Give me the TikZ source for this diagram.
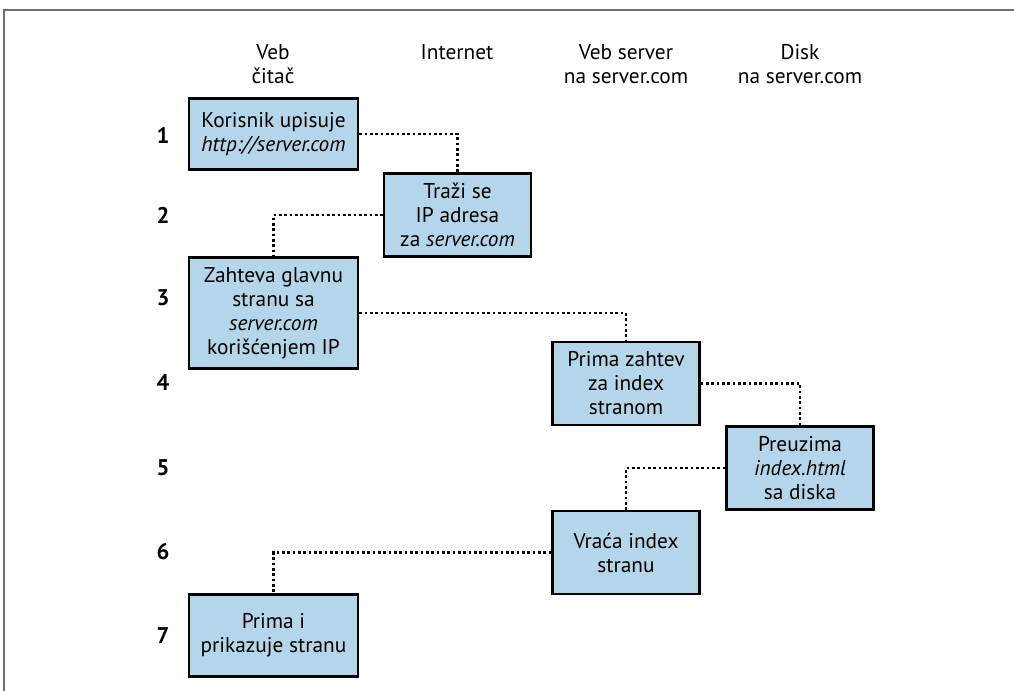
\documentclass[tikz,border=0pt]{standalone}
\usepackage{fontspec}
\setmainfont{PT Sans}
\usetikzlibrary{positioning}
\definecolor{boxblue}{HTML}{B4D5EA}
\definecolor{framegray}{HTML}{6E6E6E}

\begin{document}
\begin{tikzpicture}[x=0.75pt,y=-0.75pt,thick]
        %
        % `stage' is used for the blue step boxes.
        % `link' is used for the dotted connectors.
        % `rownum' is used for the step numbers on the left.
        \tikzstyle{stage} = [draw,fill=boxblue,line width=1.8pt,align=center,inner sep=0pt,font=\fontsize{16}{18}\selectfont]
        \tikzstyle{wide} = [minimum width=127pt]
        \tikzstyle{narrow} = [minimum width=110pt]
        \tikzstyle{link} = [line width=2.1pt,dash pattern=on 2pt off 2pt]
        \tikzstyle{rownum} = [font=\fontsize{17}{18}\selectfont\bfseries]
        \tikzstyle{head} = [align=center,font=\fontsize{16}{18}\selectfont]
        %
        \useasboundingbox (0,0) rectangle (1014,691);
        % Frame
        \draw[framegray,line width=1.4pt] (4,691) -- (4,10) -- (1014,10);
        %
        % Column heads
        \node[head] (head1) at (273,64) {Veb\\čitač};
        \node[head] (head2) at (457,52) {Internet};
        \node[head] (head3) at (626,64) {Veb server\\na server.com};
        \node[head] (head4) at (800,64) {Disk\\na server.com};
        %
        % Step numbers
        \node[rownum] (n1) at (163,135) {1};
        \node[rownum] (n2) at (163,215) {2};
        \node[rownum] (n3) at (163,298) {3};
        \node[rownum] (n4) at (163,383) {4};
        \node[rownum] (n5) at (163,468) {5};
        \node[rownum] (n6) at (163,552) {6};
        \node[rownum] (n7) at (163,636) {7};
        %
        % Column 1
        \node[stage,wide,minimum height=53.5pt] (b1) at (273.5,134) {Korisnik upisuje\\\textit{http://server.com}};
        \node[stage,wide,minimum height=83pt] (b3) at (273.5,313) {Zahteva glavnu\\stranu sa\\\textit{server.com}\\korišćenjem IP};
        \node[stage,wide,minimum height=61.5pt] (b7) at (273.5,635.5) {Prima i\\prikazuje stranu};
        %
        % Column 2
        \node[stage,narrow,minimum height=62pt] (b2) at (457.5,215) {Traži se\\IP adresa\\za \textit{server.com}};
        %
        % Column 3
        \node[stage,narrow,minimum height=62pt] (b4) at (626,383.5) {Prima zahtev\\za index\\stranom};
        \node[stage,narrow,minimum height=62pt] (b6) at (626,552.5) {Vraća index\\stranu};
        %
        % Column 4
        \node[stage,narrow,minimum height=62pt] (b5) at (800,468) {Preuzima\\\textit{index.html}\\sa diska};
        %
        % Dotted connectors
        \draw[link] (b1.east) -| (b2.north);
        \draw[link] (b2.west) -| (b3.north);
        \draw[link] (b3.east) -| (b4.north);
        \draw[link] (b4.east) -| (b5.north);
        \draw[link] (b5.west) -| (b6.north);
        \draw[link] (b6.west) -| (b7.north);
        %
\end{tikzpicture}
\end{document}
